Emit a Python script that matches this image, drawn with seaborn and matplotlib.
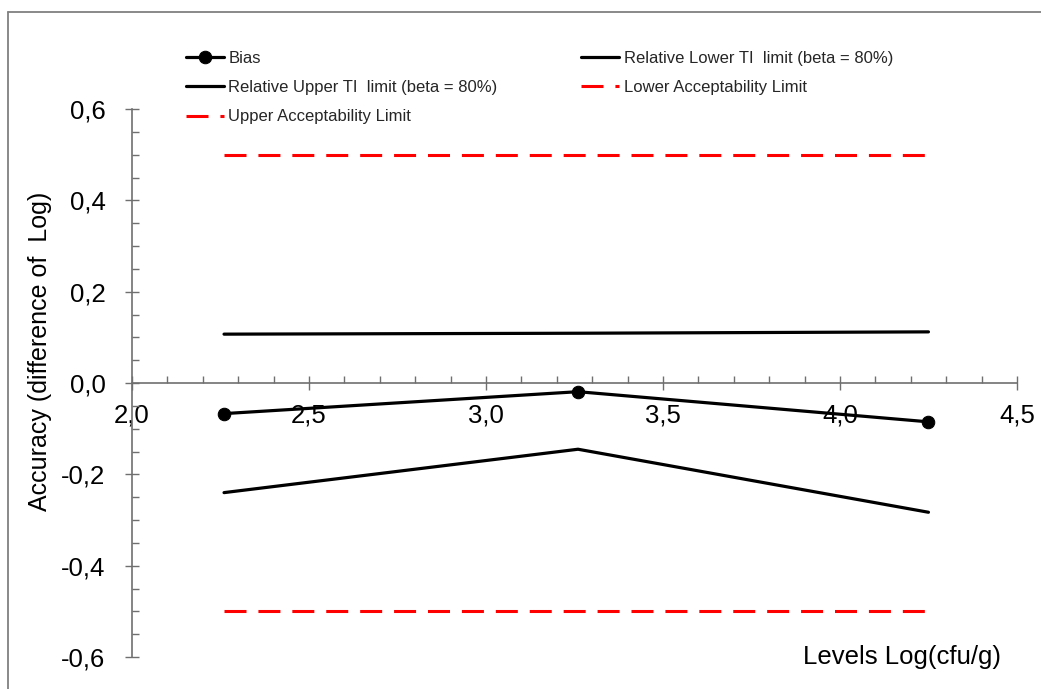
import matplotlib
matplotlib.use("Agg")
import matplotlib.pyplot as plt
from matplotlib.ticker import MultipleLocator, FuncFormatter
import seaborn as sns
import pandas as pd

# Accuracy profile data
levels = [2.26, 3.26, 4.25]
bias = [-0.067, -0.019, -0.085]
lower_ti = [-0.240, -0.145, -0.283]
upper_ti = [0.107, 0.109, 0.112]
lower_acc = [-0.5, -0.5, -0.5]
upper_acc = [0.5, 0.5, 0.5]

labels = {
    "bias": "Bias",
    "lower_ti": "Relative Lower TI  limit (beta = 80%)",
    "upper_ti": "Relative Upper TI  limit (beta = 80%)",
    "lower_acc": "Lower Acceptability Limit",
    "upper_acc": "Upper Acceptability Limit",
}

sns.set_theme(style="white")
plt.rcParams["font.family"] = ["Liberation Sans", "DejaVu Sans"]

fig = plt.figure(figsize=(10.41, 6.89), dpi=100)
ax = fig.add_axes([0.1268, 0.0464, 0.8501, 0.7954])

df = pd.DataFrame({"x": levels, "bias": bias, "lower_ti": lower_ti,
                   "upper_ti": upper_ti, "lower_acc": lower_acc,
                   "upper_acc": upper_acc})

red = "#ff0000"
dash = (7.2, 3.9)
sns.lineplot(data=df, x="x", y="bias", ax=ax, color="black", lw=2.3,
             marker="o", markersize=9, markeredgecolor="black",
             label=labels["bias"])
sns.lineplot(data=df, x="x", y="lower_ti", ax=ax, color="black", lw=2.3,
             label=labels["lower_ti"])
sns.lineplot(data=df, x="x", y="upper_ti", ax=ax, color="black", lw=2.3,
             label=labels["upper_ti"])
sns.lineplot(data=df, x="x", y="lower_acc", ax=ax, color=red, lw=2.2,
             label=labels["lower_acc"])
sns.lineplot(data=df, x="x", y="upper_acc", ax=ax, color=red, lw=2.2,
             label=labels["upper_acc"])
for line in ax.lines[3:5]:
    line.set_dashes(dash)

ax.set_xlim(2.0, 4.5)
ax.set_ylim(-0.6, 0.6)

# Excel-style crossing axes
for s in ["top", "right"]:
    ax.spines[s].set_visible(False)
ax.spines["bottom"].set_position(("data", 0))
ax.spines["left"].set_position(("data", 2.0))
for s in ["bottom", "left"]:
    ax.spines[s].set_color("#6f6f6f")
    ax.spines[s].set_linewidth(1.2)

ax.xaxis.set_major_locator(MultipleLocator(0.5))
ax.xaxis.set_minor_locator(MultipleLocator(0.1))
ax.yaxis.set_major_locator(MultipleLocator(0.2))
ax.yaxis.set_minor_locator(MultipleLocator(0.05))
fmt = FuncFormatter(lambda v, p: f"{v:.1f}".replace(".", ",").replace("-0,0", "0,0"))
ax.xaxis.set_major_formatter(fmt)
ax.yaxis.set_major_formatter(fmt)

ax.tick_params(axis="both", which="major", direction="inout", length=10,
               width=1.0, color="#6f6f6f", labelsize=18.5, labelcolor="black",
               bottom=True, left=True)
ax.tick_params(axis="both", which="minor", direction="in", length=5,
               width=1.0, color="#6f6f6f", bottom=True, left=True)
ax.tick_params(axis="x", which="major", pad=10)
ax.tick_params(axis="y", which="major", pad=14)

ax.set_xlabel("Levels Log(cfu/g)", fontsize=18.5, color="black")
ax.set_ylabel("Accuracy (difference of  Log)", fontsize=18, color="black")
ax.xaxis.set_label_coords(0.87, 0.022)
ax.yaxis.set_label_coords(-0.09, 0.558)

h, l = ax.get_legend_handles_labels()
order = [0, 2, 4, 1, 3]
leg = ax.legend([h[i] for i in order], [l[i] for i in order], ncol=2,
                loc="upper left", bbox_to_anchor=(186 / 1041, 1 - 51 / 689),
                bbox_transform=fig.transFigure, frameon=False, fontsize=12,
                handlelength=2.3, handletextpad=0.25, columnspacing=5.0,
                labelspacing=0.85, borderpad=0, borderaxespad=0)

# Chart area border
fig.add_artist(plt.Line2D([8 / 1041, 8 / 1041], [0, 1 - 12 / 689],
                          transform=fig.transFigure, color="#808080", lw=1.3))
fig.add_artist(plt.Line2D([8 / 1041, 1], [1 - 12 / 689, 1 - 12 / 689],
                          transform=fig.transFigure, color="#808080", lw=1.3))

fig.savefig("out.png", dpi=100)
